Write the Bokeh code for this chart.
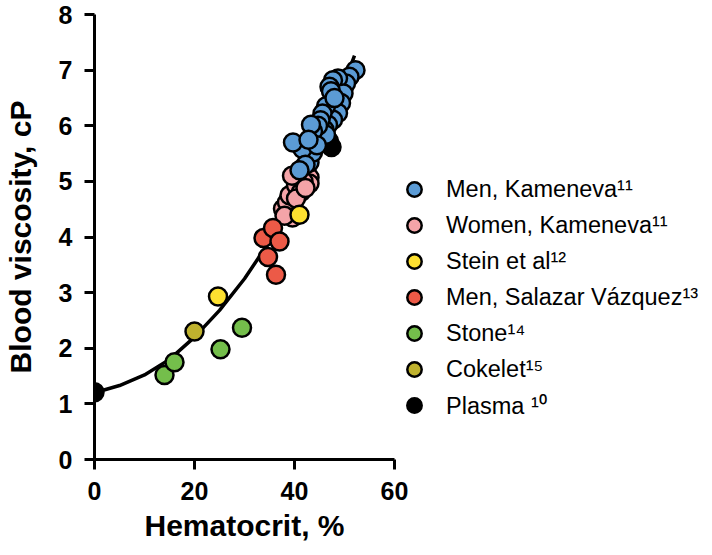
from bokeh.plotting import figure
from bokeh.models import Range1d, Legend, LegendItem, FixedTicker
from bokeh.embed import file_html
from bokeh.resources import INLINE

# ---- data ----
men_kam_hct = [52.2, 51.0, 50.3, 48.7, 47.7, 47.0, 49.8, 49.3, 48.7, 47.7, 46.7, 46.0, 46.3, 47.3,
               46.3, 45.6, 45.2, 44.7, 43.7, 43.3, 43.0, 43.7, 41.6, 39.7, 42.2, 41.0, 44.5, 42.8, 48.0]
men_kam_visc = [7.00, 6.88, 6.76, 6.85, 6.82, 6.70, 6.58, 6.41, 6.23, 6.11, 6.02, 5.93, 5.84, 6.62,
                6.35, 6.22, 6.10, 6.00, 5.90, 6.02, 5.34, 5.52, 5.58, 5.70, 5.30, 5.20, 5.65, 5.75, 6.50]

women_kam_hct = [37.7, 38.5, 39.0, 40.3, 43.0, 41.3, 40.3, 43.0, 39.6, 38.0, 41.8, 39.5, 42.2]
women_kam_visc = [4.51, 4.62, 4.75, 4.93, 5.07, 4.81, 4.69, 4.96, 4.35, 4.38, 5.00, 5.10, 4.88]

stein_hct = [24.7, 41.0]
stein_visc = [2.93, 4.40]

salazar_hct = [33.8, 35.7, 37.0, 34.7, 36.3]
salazar_visc = [3.98, 4.16, 3.92, 3.64, 3.32]

stone_hct = [14.0, 16.0, 25.2, 29.5]
stone_visc = [1.52, 1.75, 1.98, 2.37]

cokelet_hct = [20.0]
cokelet_visc = [2.30]

plasma_hct = [0.0, 47.4, 46.9]
plasma_visc = [1.21, 5.62, 5.72]

fit_hct = [0, 5, 10, 15, 20, 25, 30, 35, 40, 45, 50, 52]
fit_visc = [1.20, 1.33, 1.52, 1.80, 2.20, 2.68, 3.25, 3.92, 4.72, 5.65, 6.78, 7.26]

x_ticks = [0, 20, 40, 60]
y_ticks = [0, 1, 2, 3, 4, 5, 6, 7, 8]

labels = ["Men, Kameneva\u00b9\u00b9", "Women, Kameneva\u00b9\u00b9", "Stein et al\u00b9\u00b2",
          "Men, Salazar V\u00e1zquez\u00b9\u00b3", "Stone\u00b9\u2074", "Cokelet\u00b9\u2075",
          "Plasma \u00b9\u2070"]

FONT = "Liberation Sans"

p = figure(output_backend="svg", toolbar_location=None,
           frame_width=300, frame_height=445,
           min_border_left=92, min_border_top=14, min_border_right=304, min_border_bottom=0,
           x_range=Range1d(0, 60), y_range=Range1d(0, 8))

p.outline_line_color = None
p.xgrid.visible = False
p.ygrid.visible = False
p.background_fill_color = "white"

for ax in (p.xaxis, p.yaxis):
    ax.axis_line_width = 3
    ax.axis_line_color = "black"
    ax.major_tick_line_width = 3
    ax.major_tick_line_color = "black"
    ax.major_tick_out = 10
    ax.major_tick_in = 0
    ax.minor_tick_line_color = None
    ax.major_label_text_font = FONT
    ax.major_label_text_font_style = "bold"
    ax.major_label_text_font_size = "25px"
    ax.major_label_text_color = "black"
    ax.axis_label_text_font = FONT
    ax.axis_label_text_font_style = "bold"
    ax.axis_label_text_font_size = "30px"
    ax.axis_label_text_color = "black"

p.xaxis.ticker = FixedTicker(ticks=x_ticks)
p.yaxis.ticker = FixedTicker(ticks=y_ticks)
p.xaxis.major_label_standoff = 12
p.yaxis.major_label_standoff = 12
p.xaxis.axis_label = "Hematocrit, %"
p.yaxis.axis_label = "Blood viscosity, cP"
p.xaxis.axis_label_standoff = 6
p.yaxis.axis_label_standoff = 19

p.line(fit_hct, fit_visc, line_color="black", line_width=3.5)

S = 18
LW = 2.5
r_women = p.scatter(women_kam_hct, women_kam_visc, size=S, fill_color="#F4A4A8", line_color="black", line_width=LW)
r_pl = p.scatter(plasma_hct, plasma_visc, size=S, fill_color="black", line_color="black", line_width=LW)
r_men = p.scatter(men_kam_hct, men_kam_visc, size=S, fill_color="#5B9BD5", line_color="black", line_width=LW)
r_sal = p.scatter(salazar_hct, salazar_visc, size=S, fill_color="#EC5A47", line_color="black", line_width=LW)
r_stein = p.scatter(stein_hct, stein_visc, size=S, fill_color="#FDE030", line_color="black", line_width=LW)
r_stone = p.scatter(stone_hct, stone_visc, size=S, fill_color="#74BE4B", line_color="black", line_width=LW)
r_cok = p.scatter(cokelet_hct, cokelet_visc, size=S, fill_color="#BFB22E", line_color="black", line_width=LW)

items = [LegendItem(label=labels[0], renderers=[r_men]),
         LegendItem(label=labels[1], renderers=[r_women]),
         LegendItem(label=labels[2], renderers=[r_stein]),
         LegendItem(label=labels[3], renderers=[r_sal]),
         LegendItem(label=labels[4], renderers=[r_stone]),
         LegendItem(label=labels[5], renderers=[r_cok]),
         LegendItem(label=labels[6], renderers=[r_pl])]

legend = Legend(items=items, location=(0, 36))
legend.border_line_color = None
legend.background_fill_alpha = 0
legend.label_text_font = FONT
legend.label_text_font_size = "23.5px"
legend.label_text_color = "black"
legend.glyph_width = 40
legend.glyph_height = 36
legend.label_height = 36
legend.spacing = 0
legend.padding = 0
legend.margin = 0
legend.label_standoff = 12
p.add_layout(legend, "right")

open("out.html", "w").write(file_html(p, INLINE))
